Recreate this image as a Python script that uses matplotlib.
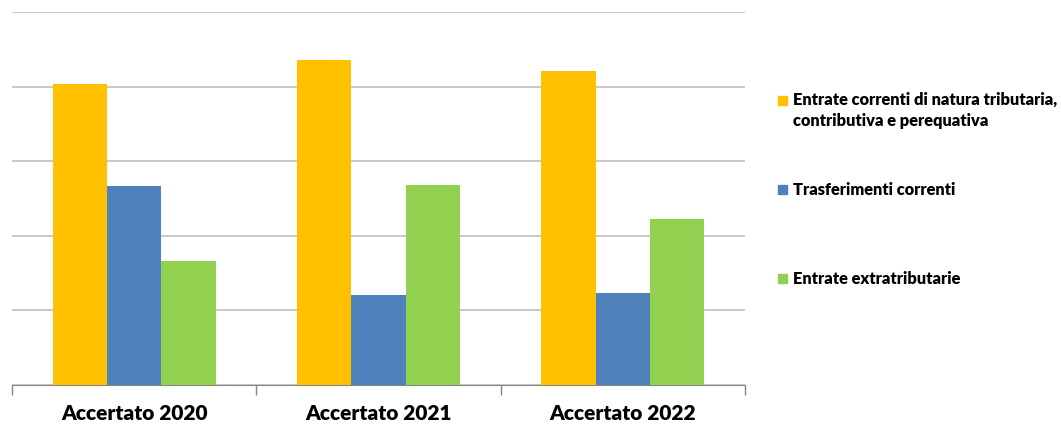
import numpy as np
import matplotlib.pyplot as plt
from matplotlib.patches import Rectangle

# Data (no y labels shown, so arbitrary units)
categories = ['Accertato 2020', 'Accertato 2021', 'Accertato 2022']
series_names = ['Entrate correnti di natura tributaria,\ncontributiva e perequativa',
                'Trasferimenti correnti',
                'Entrate extratributarie']
tributarie = [4.03, 4.36, 4.21]
trasferimenti = [2.67, 1.21, 1.23]
extratributarie = [1.66, 2.68, 2.23]

colors = ['#FFC000', '#4F81BD', '#92D050']
font = 'Lato'

fig = plt.figure(figsize=(10.61, 4.24), dpi=100)
ax = fig.add_axes([12/1061, 39/424, 733/1061, 373/424])

x = np.arange(len(categories))
w = 1 / 4.5  # gap width 150%
for i, vals in enumerate([tributarie, trasferimenti, extratributarie]):
    ax.bar(x + (i - 1) * w, vals, width=w, color=colors[i], zorder=3)

ax.set_xlim(-0.5, len(categories) - 0.5)
ax.set_ylim(0, 5)
ax.set_yticks(np.arange(0, 6, 1))
ax.yaxis.grid(True, color='#BFBFBF', linewidth=1.2, zorder=0)
ax.tick_params(axis='y', left=False, labelleft=False)

ax.set_xticks(x)
ax.set_xticklabels(categories, fontsize=15, fontweight='heavy', family=font)
ax.set_xticks(np.arange(-0.5, len(categories)), minor=True)
ax.tick_params(axis='x', which='major', length=0, pad=14)
ax.tick_params(axis='x', which='minor', length=7, color='#868686', width=1)

for s in ['left', 'right', 'top']:
    ax.spines[s].set_visible(False)
ax.spines['bottom'].set_color('#868686')

# legend drawn by hand to follow the uneven spacing of the original
leg_y = [92, 190, 279]
for name, c, y in zip(series_names, colors, leg_y):
    sq_y = y + 4 if '\n' in name else y - 5
    fig.patches.append(Rectangle((778/1061, 1 - (sq_y + 9)/424), 9/1061, 9/424,
                                 transform=fig.transFigure, color=c))
    fig.text(793/1061, 1 - y/424, name, fontsize=11.8, fontweight='heavy',
             family=font, va='top' if '\n' in name else 'center',
             linespacing=1.35, transform=fig.transFigure)

fig.savefig('out.png', dpi=100)
